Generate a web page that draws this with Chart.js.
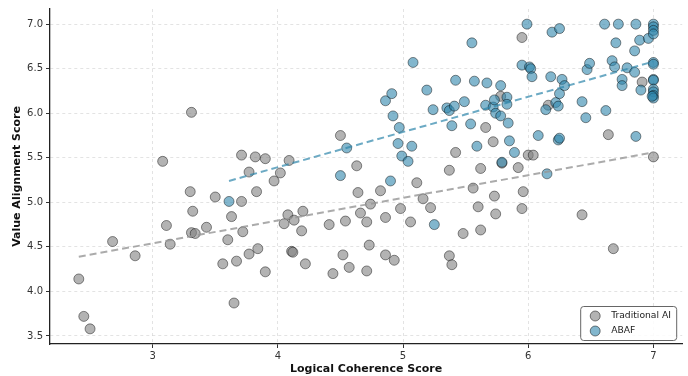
<!DOCTYPE html>
<html>
<head>
<meta charset="utf-8">
<script src="https://cdn.jsdelivr.net/npm/chart.js@4.4.0/dist/chart.umd.min.js"></script>
<style>
    html, body { margin: 0; padding: 0; background: #fff; }
    #wrap { width: 688px; height: 376px; }
</style>
</head>
<body>
<div id="wrap"><canvas id="scatter-chart" width="688" height="376"></canvas></div>
<script>
// values
const tradX = [2.41, 2.45, 2.50, 2.68, 2.86, 3.08, 3.31, 3.11, 3.14, 3.30, 3.32, 3.31, 3.34, 3.43, 3.50, 3.56, 3.60, 3.63, 3.65, 3.67,
    3.71, 3.72, 3.71, 3.77, 3.77, 3.82, 3.83, 3.84, 3.90, 3.90, 3.97, 4.02, 4.05, 4.08, 4.09, 4.11, 4.12, 4.13, 4.19, 4.20,
    4.22, 4.41, 4.44, 4.50, 4.52, 4.54, 4.57, 4.63, 4.64, 4.66, 4.71, 4.73, 4.74, 4.71, 4.82, 4.86, 4.86, 4.93, 4.98, 5.06,
    5.11, 5.16, 5.22, 5.37, 5.39, 5.37, 5.42, 5.48, 5.56, 5.60, 5.62, 5.62, 5.66, 5.72, 5.73, 5.74, 5.78, 5.79, 5.92, 5.96,
    5.95, 5.95, 6.00, 6.04, 6.16, 6.43, 6.64, 6.68, 6.91, 7.00];
const tradY = [4.14, 3.72, 3.58, 4.56, 4.40, 5.46, 6.01, 4.74, 4.53, 5.12, 4.90, 4.66, 4.65, 4.72, 5.06, 4.31, 4.58, 4.84, 3.87, 4.34,
    5.01, 4.67, 5.53, 5.34, 4.42, 5.51, 5.12, 4.48, 5.49, 4.22, 5.24, 5.33, 4.76, 4.86, 5.47, 4.45, 4.44, 4.80, 4.68, 4.90,
    4.31, 4.75, 4.20, 5.75, 4.41, 4.79, 4.27, 5.41, 5.11, 4.88, 4.78, 4.52, 4.98, 4.23, 5.13, 4.83, 4.41, 4.35, 4.93, 4.78,
    5.22, 5.04, 4.94, 4.40, 4.30, 5.36, 5.56, 4.65, 5.16, 4.95, 4.69, 5.38, 5.84, 5.68, 5.07, 4.87, 6.19, 5.44, 5.39, 5.12,
    4.93, 6.85, 5.53, 5.53, 6.09, 4.86, 5.76, 4.48, 6.35, 5.51];

const abafX = [3.61, 4.50, 4.55, 4.90, 4.86, 4.91, 4.92, 4.97, 4.96, 4.99, 5.04, 5.07, 5.08, 5.19, 5.24, 5.25, 5.35, 5.37, 5.41, 5.42,
    5.39, 5.49, 5.55, 5.54, 5.57, 5.59, 5.67, 5.66, 5.72, 5.73, 5.74, 5.78, 5.78, 5.83, 5.83, 5.84, 5.85, 5.79, 5.89, 5.99,
    5.95, 6.01, 6.02, 6.03, 6.08, 6.15, 6.14, 6.18, 6.19, 6.25, 6.22, 6.24, 6.25, 6.27, 6.29, 6.24, 6.25, 6.43, 6.46, 6.47,
    6.49, 6.62, 6.61, 6.72, 6.70, 6.67, 6.69, 6.75, 6.75, 6.79, 6.85, 6.86, 6.85, 6.86, 6.89, 6.90, 6.96, 7.00, 7.00, 7.00,
    7.00, 7.00, 7.00, 7.00, 7.00, 7.00, 7.00, 7.00, 7.00, 6.99];
const abafY = [5.01, 5.30, 5.61, 5.24, 6.14, 6.22, 5.97, 5.84, 5.66, 5.52, 5.46, 5.63, 6.57, 6.26, 6.04, 4.75, 6.06, 6.03, 6.08, 6.37,
    5.86, 6.13, 6.79, 5.88, 6.36, 5.63, 6.34, 6.09, 6.07, 6.15, 6.00, 5.97, 6.31, 6.18, 6.10, 5.89, 5.69, 5.45, 5.56, 7.00,
    6.54, 6.52, 6.50, 6.41, 5.75, 5.32, 6.04, 6.41, 6.91, 6.95, 6.12, 6.08, 6.22, 6.38, 6.31, 5.70, 5.72, 6.13, 5.95, 6.49,
    6.56, 6.03, 7.00, 7.00, 6.79, 6.59, 6.52, 6.38, 6.31, 6.51, 6.70, 7.00, 6.46, 5.74, 6.82, 6.26, 6.84, 7.00, 6.97, 6.93,
    6.89, 6.57, 6.55, 6.38, 6.37, 6.27, 6.24, 6.20, 6.17, 6.19];

// dashed trend lines, end points as read
const tradTrendX = [2.41, 7.00];
const tradTrendY = [4.39, 5.56];
const abafTrendX = [3.61, 7.00];
const abafTrendY = [5.24, 6.58];

const xTicks = [3, 4, 5, 6, 7];
const yTicks = [3.5, 4.0, 4.5, 5.0, 5.5, 6.0, 6.5, 7.0];
const legendOrder = ['Traditional AI', 'ABAF'];

const grayFill = 'rgba(128,128,128,0.6)';
const blueFill = 'rgba(46,134,171,0.6)';

function toPoints(xs, ys) {
    return xs.map((x, i) => ({ x: x, y: ys[i] }));
}

// legend drawn inside the plot, lower right
const boxLegend = {
    id: 'boxLegend',
    afterDraw(chart) {
        const ctx = chart.ctx;
        const area = chart.chartArea;
        const items = legendOrder.map((name) => chart.data.datasets.find((d) => d.label === name));
        const w = 96, h = 34;
        const x0 = area.right - w - 6, y0 = area.bottom - h - 4;
        ctx.save();
        ctx.beginPath();
        ctx.roundRect(x0 + 0.5, y0 + 0.5, w, h, 3);
        ctx.fillStyle = 'rgba(255,255,255,0.85)';
        ctx.fill();
        ctx.strokeStyle = '#666';
        ctx.lineWidth = 1;
        ctx.stroke();
        ctx.font = '9.2px "DejaVu Sans"';
        ctx.textBaseline = 'middle';
        items.forEach((d, i) => {
            const cy = y0 + 10 + i * 15;
            ctx.beginPath();
            ctx.arc(x0 + 15, cy, 5, 0, Math.PI * 2);
            ctx.fillStyle = d.backgroundColor;
            ctx.fill();
            ctx.strokeStyle = 'rgba(0,0,0,0.6)';
            ctx.lineWidth = 0.8;
            ctx.stroke();
            ctx.fillStyle = '#222';
            ctx.fillText(d.label, x0 + 31, cy);
        });
        ctx.restore();
    },
};

const vCanvas = document.getElementById('scatter-chart').getContext('2d');

new Chart(vCanvas, {
    type: 'scatter',
    data: {
        datasets: [
            {
                label: 'tradTrend',
                type: 'line',
                data: toPoints(tradTrendX, tradTrendY),
                borderColor: 'rgba(150,150,150,0.8)',
                borderWidth: 2,
                borderDash: [7, 4],
                pointRadius: 0,
                fill: false,
                order: 0,
            },
            {
                label: 'abafTrend',
                type: 'line',
                data: toPoints(abafTrendX, abafTrendY),
                borderColor: 'rgba(46,134,171,0.7)',
                borderWidth: 2,
                borderDash: [7, 4],
                pointRadius: 0,
                fill: false,
                order: 0,
            },
            {
                label: 'ABAF',
                data: toPoints(abafX, abafY),
                backgroundColor: blueFill,
                borderColor: 'rgba(0,0,0,0.55)',
                borderWidth: 0.8,
                pointRadius: 5,
                pointHoverRadius: 5,
                order: 1,
            },
            {
                label: 'Traditional AI',
                data: toPoints(tradX, tradY),
                backgroundColor: grayFill,
                borderColor: 'rgba(0,0,0,0.55)',
                borderWidth: 0.8,
                pointRadius: 5,
                pointHoverRadius: 5,
                order: 2,
            },
        ],
    },
    options: {
        responsive: false,
        animation: false,
        events: [],
        layout: { padding: { top: 5, right: 5, left: 0, bottom: 0 } },
        plugins: {
            legend: { display: false },
            tooltip: { enabled: false },
        },
        scales: {
            x: {
                type: 'linear',
                min: 2.18,
                max: 7.23,
                afterBuildTicks: (scale) => { scale.ticks = xTicks.map((v) => ({ value: v })); },
                afterFit: (scale) => { scale.height = 32; },
                grid: {
                    color: 'rgba(200,200,200,0.5)',
                    tickColor: '#333',
                    tickLength: 4,
                    tickBorderDash: [],
                },
                border: { color: '#222', width: 1.3, dash: [3, 3] },
                ticks: {
                    color: '#333',
                    padding: 2,
                    font: { family: 'DejaVu Sans', size: 10 },
                    callback: (v) => String(v),
                },
                title: {
                    display: true,
                    text: 'Logical Coherence Score',
                    color: '#111',
                    padding: { top: 1, bottom: 0 },
                    font: { family: 'DejaVu Sans', size: 11, weight: 'bold' },
                },
            },
            y: {
                type: 'linear',
                min: 3.41,
                max: 7.17,
                afterBuildTicks: (scale) => { scale.ticks = yTicks.map((v) => ({ value: v })); },
                afterFit: (scale) => { scale.width = 50; },
                grid: {
                    color: 'rgba(200,200,200,0.5)',
                    tickColor: '#333',
                    tickLength: 4,
                    tickBorderDash: [],
                },
                border: { color: '#222', width: 1.3, dash: [3, 3] },
                ticks: {
                    color: '#333',
                    padding: 3,
                    font: { family: 'DejaVu Sans', size: 10 },
                    callback: (v) => Number(v).toFixed(1),
                },
                title: {
                    display: true,
                    text: 'Value Alignment Score',
                    color: '#111',
                    padding: { top: 11, bottom: 0 },
                    font: { family: 'DejaVu Sans', size: 11, weight: 'bold' },
                },
            },
        },
    },
    plugins: [boxLegend],
});
</script>
</body>
</html>
